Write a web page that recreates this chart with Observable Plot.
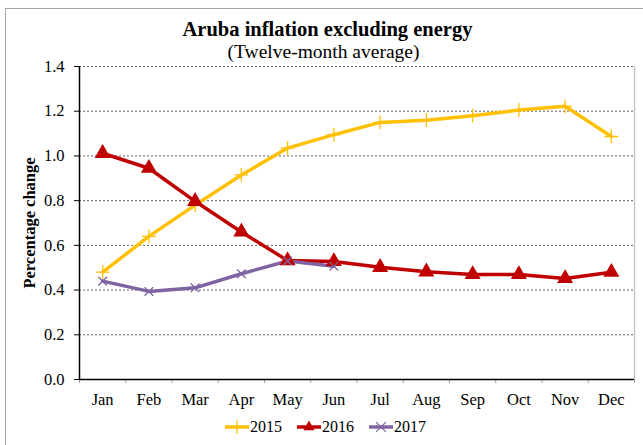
<!DOCTYPE html>
<html>
<head>
<meta charset="utf-8">
<script src="https://cdn.jsdelivr.net/npm/d3@7"></script>
<script src="https://cdn.jsdelivr.net/npm/@observablehq/plot@0.6"></script>
<style>
  html, body { margin: 0; padding: 0; background: #fff; }
  #wrap { position: relative; width: 643px; height: 445px; overflow: hidden; font-family: "Liberation Serif", "Times New Roman", serif; }
  #border { position: absolute; left: 5px; top: 8px; width: 700px; height: 500px; border-left: 1px solid #a6a6a6; border-top: 1px solid #a6a6a6; box-sizing: border-box; }
  #title { position: absolute; left: 0; width: 655px; top: 18px; text-align: center; font-weight: bold; font-size: 20.5px; line-height: 22px; color: #000; }
  #subtitle { position: absolute; left: 0; width: 647px; top: 41px; text-align: center; font-size: 19.5px; line-height: 22px; color: #000; }
  #chart { position: absolute; left: 0; top: 56px; }
  #legend { position: absolute; left: 0; width: 650px; top: 418px; display: flex; justify-content: center; gap: 14px; font-size: 16px; line-height: 18px; }
  #legend .item { display: flex; align-items: center; }
  #legend svg { display: block; }
  #chart svg text { font-size: 16.5px; font-family: "Liberation Serif", "Times New Roman", serif; }
  #chart svg g[aria-label="y-axis label"] text { font-weight: bold; font-size: 16.5px; }
</style>
</head>
<body>
<div id="wrap">
  <div id="border"></div>
  <div id="title">Aruba inflation excluding energy</div>
  <div id="subtitle">(Twelve-month average)</div>
  <div id="chart"></div>
  <div id="legend"></div>
</div>
<script>
const months = ["Jan","Feb","Mar","Apr","May","Jun","Jul","Aug","Sep","Oct","Nov","Dec"];
const years = ["2015", "2016", "2017"];
const v2015 = [0.48, 0.64, 0.78, 0.915, 1.035, 1.095, 1.15, 1.16, 1.18, 1.205, 1.222, 1.087];
const v2016 = [1.012, 0.945, 0.797, 0.66, 0.532, 0.528, 0.502, 0.482, 0.47, 0.47, 0.452, 0.48];
const v2017 = [0.44, 0.394, 0.41, 0.473, 0.53, 0.507];
const yTicks = [0, 0.2, 0.4, 0.6, 0.8, 1.0, 1.2, 1.4];
const colors = ["#FFC000", "#C00000", "#8064A2"];

const series = [v2015, v2016, v2017];
const data = series.flatMap((vals, s) => vals.map((v, i) => ({year: years[s], month: months[i], value: v})));
const mx = d => months.indexOf(d.month) + 0.5;
const byYear = y => data.filter(d => d.year === y);

const chart = Plot.plot({
  width: 643,
  height: 356,
  marginLeft: 79,
  marginRight: 9,
  marginTop: 10,
  marginBottom: 33,
  style: { fontFamily: "Liberation Serif, Times New Roman, serif", fontSize: "16.5px", color: "#000", background: "transparent" },
  x: { type: "linear", domain: [0, 12] },
  y: { domain: [0, 1.4] },
  color: { domain: years, range: colors },
  marks: [
    Plot.gridY(yTicks.filter(t => t > 0), { stroke: "#606060", strokeOpacity: 1, strokeDasharray: "2,2", strokeWidth: 1 }),
    Plot.ruleX([12], { stroke: "#c8c8c8", strokeWidth: 1.5 }),
    Plot.axisY(yTicks, { tickSize: 5, tickPadding: 10, tickFormat: d3.format(".1f"), label: "Percentage change", labelAnchor: "center", labelOffset: 56, labelArrow: "none", dy: 0 }),
    Plot.axisX(d3.range(13), { tickSize: 4, tickFormat: () => "", label: null, stroke: "#a0a0a0" }),
    Plot.axisX(months.map((m, i) => i + 0.5), { tickSize: 0, tickPadding: 14, tickFormat: t => months[Math.floor(t)], label: null }),
    Plot.ruleX([0], { stroke: "#000", strokeWidth: 1.5 }),
    Plot.ruleY([0], { stroke: "#000", strokeWidth: 1.5 }),
    Plot.line(data, { x: mx, y: "value", z: "year", stroke: "year", strokeWidth: 3.5 }),
    Plot.dot(byYear("2015"), { x: mx, y: "value", symbol: "plus", r: 4.5, stroke: colors[0], strokeWidth: 1.3 }),
    Plot.dot(byYear("2016"), { x: mx, y: "value", symbol: "triangle", r: 5, fill: colors[1], stroke: colors[1] }),
    Plot.dot(byYear("2017"), { x: mx, y: "value", symbol: "times", r: 4, stroke: colors[2], strokeWidth: 1.3 })
  ]
});
document.getElementById("chart").appendChild(chart);

// Legend
const legend = document.getElementById("legend");
const symbols = [d3.symbolPlus, d3.symbolTriangle, d3.symbolTimes];
years.forEach((y, i) => {
  const item = document.createElement("div");
  item.className = "item";
  const s = d3.create("svg").attr("width", 26).attr("height", 14);
  s.append("line").attr("x1", 1).attr("x2", 25).attr("y1", 7).attr("y2", 7).attr("stroke", colors[i]).attr("stroke-width", 3.5);
  const p = s.append("path").attr("transform", "translate(13,7)").attr("d", d3.symbol(symbols[i], i === 1 ? 55 : 65)());
  if (i === 1) p.attr("fill", colors[i]); else p.attr("fill", "none").attr("stroke", colors[i]).attr("stroke-width", 1.2);
  item.appendChild(s.node());
  const t = document.createElement("span");
  t.textContent = y;
  item.appendChild(t);
  legend.appendChild(item);
});
</script>
</body>
</html>
